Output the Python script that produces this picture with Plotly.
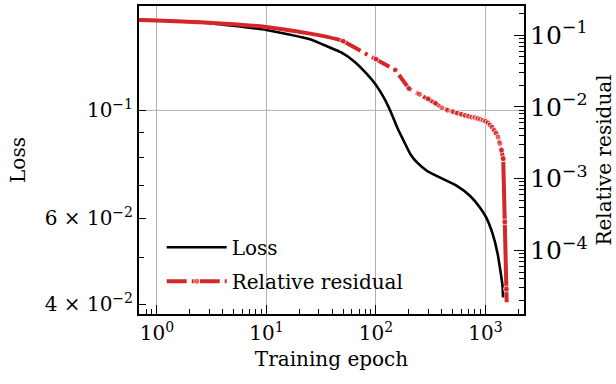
import plotly.graph_objects as go

# ---- data ----
EPOCH_LOSS = [0.69, 1, 2.75, 10, 25, 36.5, 48.2, 63.7, 84, 100, 119, 136, 157, 180,
              207, 238, 293, 360, 547, 720, 888, 1013, 1163, 1289, 1379, 1428, 1445]
LOSS = [0.1534, 0.1530, 0.1514, 0.1462, 0.1400, 0.1351, 0.1315, 0.1259, 0.1183,
        0.1128, 0.1059, 0.0995, 0.0920, 0.0864, 0.0812, 0.0781, 0.0751, 0.0733,
        0.0700, 0.0668, 0.0632, 0.0603, 0.0557, 0.0508, 0.0462, 0.0437, 0.0413]

EPOCH_RES_EARLY = [0.69, 1, 2.75, 10, 25, 44, 50]
RES_EARLY = [0.163, 0.160, 0.150, 0.130, 0.105, 0.088, 0.0826]

EPOCH_RES = [50, 100, 150, 200, 250, 300, 350, 400, 450, 500, 550, 600, 650, 700,
             750, 800, 850, 900, 950, 1000, 1050, 1100, 1150, 1200, 1250, 1300,
             1350, 1400, 1450, 1500, 1550, 1560]
RES = [0.0826, 0.0465, 0.0327, 0.0180, 0.0150, 0.0130, 0.0112, 0.0097, 0.0090,
       0.0086, 0.0082, 0.0079, 0.0076, 0.0074, 0.0072, 0.0071, 0.0069, 0.0067,
       0.0065, 0.0063, 0.0060, 0.0056, 0.0052, 0.0047, 0.0043, 0.0038, 0.0031,
       0.0025, 0.0019, 0.00025, 0.000029, 0.000019]
MARK_EVERY = 50
SOLID_FROM = 1450   # the final steep drop is drawn solid in the reference

X_TICKS = [1, 10, 100, 1000]
X_TICK_TEXT = ["10<sup>0</sup>", "10<sup>1</sup>", "10<sup>2</sup>", "10<sup>3</sup>"]
LOSS_TICKS = [0.04, 0.06, 0.1]
LOSS_TICK_TEXT = ["4 × 10<sup>−2</sup>", "6 × 10<sup>−2</sup>", "10<sup>−1</sup>"]
LOSS_MINOR = [0.05, 0.07, 0.08, 0.09]
LOSS_GRID = [0.1]

RED = "#d62728"
FONT = "DejaVu Serif"
FS = 20

dash_idx = [i for i, e in enumerate(EPOCH_RES) if e <= SOLID_FROM]
solid_idx = [i for i, e in enumerate(EPOCH_RES) if e >= SOLID_FROM]


def marker_for(idx):
    size = [6 if EPOCH_RES[i] % MARK_EVERY == 0 else 0 for i in idx]
    lw = [1 if EPOCH_RES[i] % MARK_EVERY == 0 else 0 for i in idx]
    return dict(color=RED, size=size, line=dict(color="white", width=lw))


fig = go.Figure()
fig.add_trace(go.Scatter(x=EPOCH_LOSS, y=LOSS, name="Loss", mode="lines",
                         legendgroup="a",
                         line=dict(color="black", width=2.6, shape="spline", smoothing=0.5),
                         yaxis="y"))
fig.add_trace(go.Scatter(x=EPOCH_RES_EARLY, y=RES_EARLY, mode="lines", showlegend=False,
                         legendgroup="b",
                         line=dict(color=RED, width=4, shape="spline", smoothing=0.5),
                         yaxis="y2"))
fig.add_trace(go.Scatter(x=[EPOCH_RES[i] for i in solid_idx], y=[RES[i] for i in solid_idx],
                         mode="lines+markers", showlegend=False, legendgroup="b",
                         line=dict(color=RED, width=4),
                         marker=marker_for(solid_idx), yaxis="y2"))
fig.add_trace(go.Scatter(x=[EPOCH_RES[i] for i in dash_idx], y=[RES[i] for i in dash_idx],
                         name="Relative residual", mode="lines+markers", legendgroup="b",
                         line=dict(color=RED, width=4, dash="20px,5px,3px,5px"),
                         marker=marker_for(dash_idx), yaxis="y2"))

for g in LOSS_GRID:
    fig.add_shape(type="line", xref="x domain", x0=0, x1=1, yref="y", y0=g, y1=g,
                  line=dict(color="#b0b0b0", width=1), layer="below")

axis_common = dict(showline=True, linecolor="black", linewidth=2, ticks="inside",
                   tickcolor="black", tickwidth=1.2, zeroline=False,
                   tickfont=dict(family=FONT, size=FS, color="black"))

fig.update_layout(
    width=616, height=384,
    margin=dict(l=139, r=88, t=4, b=70),
    plot_bgcolor="white", paper_bgcolor="white",
    font=dict(family=FONT, size=FS, color="black"),
    xaxis=dict(type="log", range=[-0.163, 3.351], tickmode="array", tickvals=X_TICKS,
               ticktext=X_TICK_TEXT, ticklen=9, mirror=True, showgrid=True,
               gridcolor="#b0b0b0", gridwidth=1,
               minor=dict(ticks="inside", ticklen=5, dtick="D1", tickcolor="black", showgrid=False),
               title=dict(text="Training epoch", font=dict(family=FONT, size=FS), standoff=8),
               **axis_common),
    yaxis=dict(type="log", range=[-1.418, -0.7857], tickmode="array", tickvals=LOSS_TICKS,
               ticktext=LOSS_TICK_TEXT, ticklen=7, showgrid=False,
               minor=dict(ticks="inside", ticklen=5, tickmode="array", tickvals=LOSS_MINOR,
                          tickcolor="black", showgrid=False),
               title=dict(text="Loss", font=dict(family=FONT, size=FS), standoff=14),
               **axis_common),
    yaxis2=dict(type="log", range=[-4.886, -0.594], overlaying="y", side="right", anchor="x",
                dtick=1, exponentformat="power", ticklen=10, showgrid=False,
                minor=dict(ticks="inside", ticklen=5, dtick="D1", tickcolor="black", showgrid=False),
                title=dict(text="Relative residual", font=dict(family=FONT, size=FS), standoff=10),
                **axis_common),
    legend=dict(x=0.059, y=0.28, xanchor="left", yanchor="top", bgcolor="rgba(0,0,0,0)",
                borderwidth=0, font=dict(family=FONT, size=FS), itemwidth=60,
                tracegroupgap=5),
    showlegend=True,
)

fig.write_html("out.html")
